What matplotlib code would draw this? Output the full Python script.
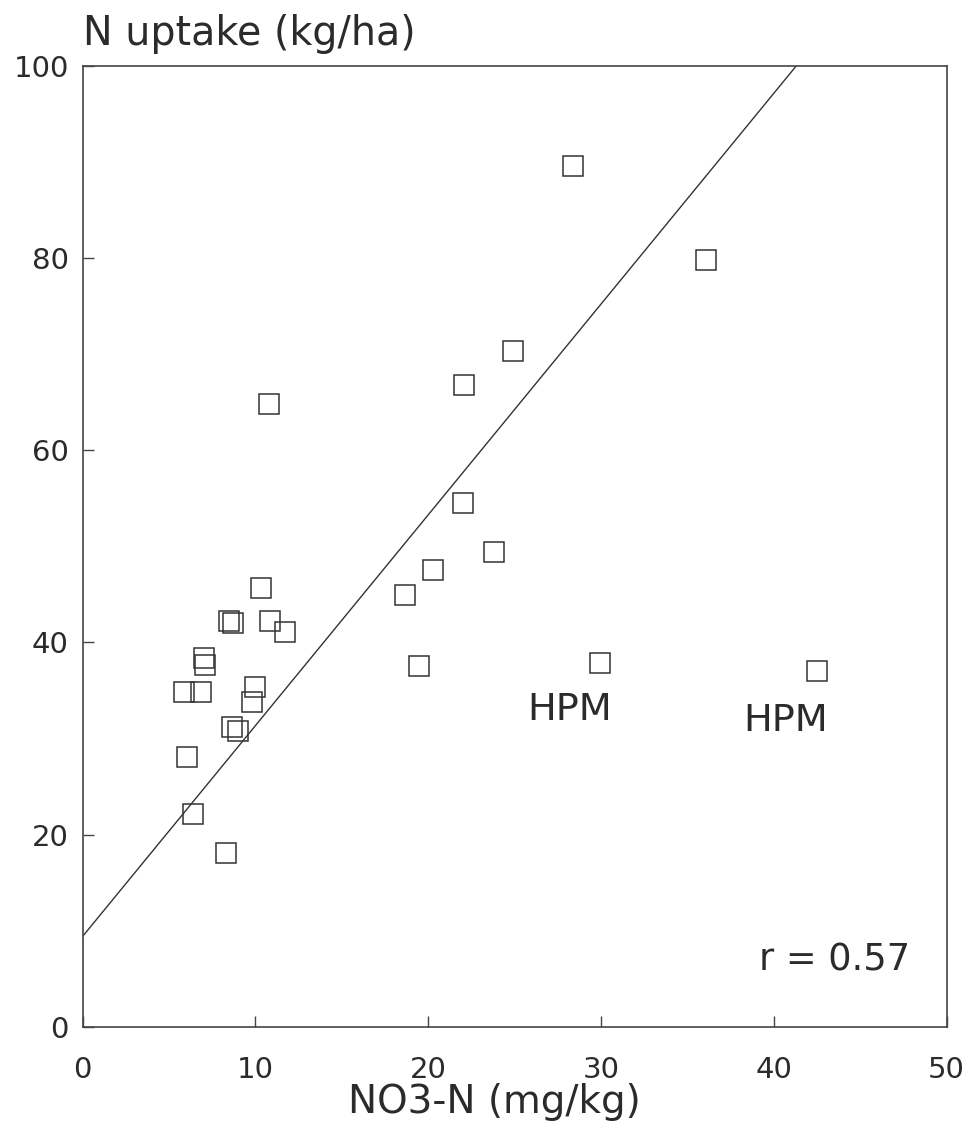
import matplotlib
matplotlib.use("Agg")
import matplotlib.pyplot as plt
import numpy as np

# NO3-N (mg/kg) vs N uptake (kg/ha)
no3_n = [28.4, 36.05, 24.9, 22.07, 10.76, 22.0, 23.8, 20.3, 18.65, 19.46,
         29.96, 42.5, 10.3, 8.46, 8.71, 10.84, 11.69, 7.0, 7.05, 5.85,
         6.82, 10.0, 9.77, 8.65, 9.0, 6.04, 6.39, 8.32]
n_uptake = [89.6, 79.8, 70.4, 66.8, 64.8, 54.5, 49.4, 47.5, 44.9, 37.6,
            37.9, 37.0, 45.7, 42.2, 42.0, 42.2, 41.05, 38.4, 37.7, 34.8,
            34.8, 35.4, 33.8, 31.2, 30.8, 28.1, 22.1, 18.1]

# regression line
intercept = 9.4
slope = 2.195
r_value = 0.57

# HPM labels
hpm_x = [28.2, 40.7]
hpm_y = [31.9, 30.8]

x_ticks = [0, 10, 20, 30, 40, 50]
y_ticks = [0, 20, 40, 60, 80, 100]

ink = "#2b2b2b"
plt.rcParams["font.family"] = ["DejaVu Sans"]

fig = plt.figure(figsize=(9.71, 11.44), dpi=100)
ax = fig.add_axes([0.0852, 0.1027, 0.8896, 0.8392])

ax.plot(no3_n, n_uptake, linestyle="none", marker="s", markersize=14,
        markerfacecolor="none", markeredgecolor="#333333", markeredgewidth=1.1)

xl = np.array([0, 50])
ax.plot(xl, intercept + slope * xl, color="#333333", linewidth=1.0)

for hx, hy in zip(hpm_x, hpm_y):
    ax.text(hx, hy, "HPM", ha="center", va="baseline", fontsize=27.5, color=ink)

ax.text(47.9, 5.84, f"r = {r_value:.2f}", ha="right", va="baseline",
        fontsize=26.5, color=ink)

ax.set_xlim(0, 50)
ax.set_ylim(0, 100)
ax.set_xticks(x_ticks)
ax.set_yticks(y_ticks)
ax.tick_params(axis="both", direction="in", length=8, width=1.0,
               color="#444444", labelcolor=ink, labelsize=21)
ax.tick_params(axis="x", pad=21)
ax.tick_params(axis="y", pad=10)
for s in ax.spines.values():
    s.set_color("#444444")
    s.set_linewidth(1.2)

ax.set_title("N uptake (kg/ha)", loc="left", fontsize=28.5, color=ink, pad=15.5)
ax.set_xlabel("NO3-N (mg/kg)", fontsize=28, color=ink)
ax.xaxis.set_label_coords(0.476, -0.09)
ax.xaxis.label.set_verticalalignment("baseline")

fig.savefig("out.png", dpi=100, facecolor="white")
